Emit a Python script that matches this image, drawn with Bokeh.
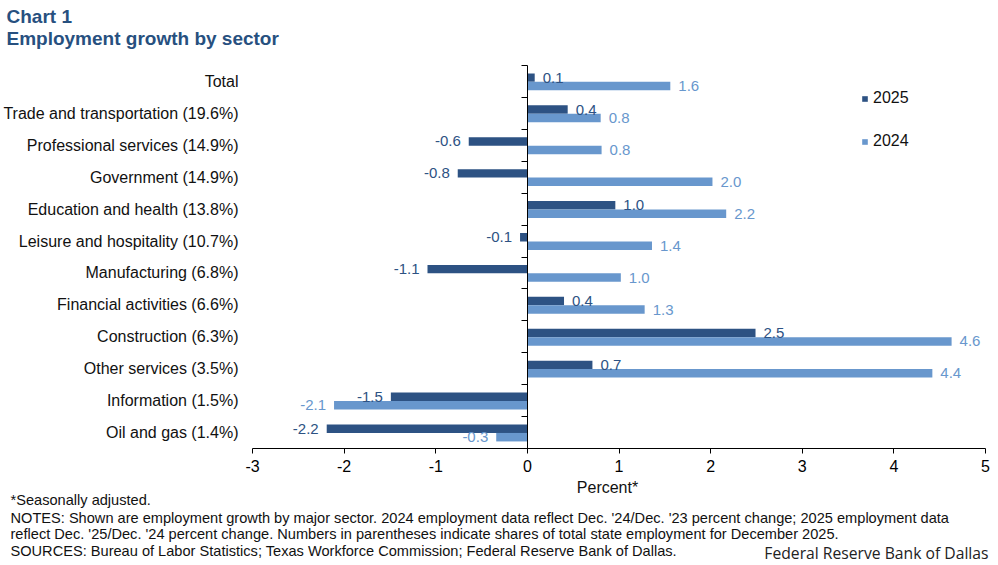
from bokeh.plotting import figure
from bokeh.models import (ColumnDataSource, Label, Legend, LegendItem,
                          FixedTicker, Range1d, LinearAxis)
from bokeh.core.properties import value
from bokeh.embed import file_html
from bokeh.resources import INLINE

sectors = ["Total", "Trade and transportation (19.6%)", "Professional services (14.9%)",
           "Government (14.9%)", "Education and health (13.8%)",
           "Leisure and hospitality (10.7%)", "Manufacturing (6.8%)",
           "Financial activities (6.6%)", "Construction (6.3%)",
           "Other services (3.5%)", "Information (1.5%)", "Oil and gas (1.4%)"]
growth_2025 = [0.08, 0.44, -0.64, -0.76, 0.96, -0.08, -1.09, 0.40, 2.49, 0.71, -1.49, -2.19]
growth_2024 = [1.56, 0.80, 0.81, 2.02, 2.17, 1.36, 1.02, 1.28, 4.63, 4.42, -2.11, -0.34]
x_ticks = [-3, -2, -1, 0, 1, 2, 3, 4, 5]

DARK = "#2D5283"
LIGHT = "#6897CD"
TITLE_C = "#27507F"
FONT = "Liberation Sans"

n = len(sectors)
ypos = [n - 1 - i for i in range(n)]

W, H = 998, 565
# plot area (pixels) inside the canvas
PL, PR, PT, PB = 252, 985, 65, 448
X0, X1 = -3, 5
Y0, Y1 = -0.5, n - 0.5
SX = (PR - PL) / (X1 - X0)
SY = (PB - PT) / (Y1 - Y0)

p = figure(width=W, height=H, output_backend="svg", toolbar_location=None,
           x_range=Range1d(X0 - PL / SX, X1 + (W - PR) / SX),
           y_range=Range1d(Y0 - (H - PB) / SY, Y1 + PT / SY),
           x_axis_location=None, y_axis_location=None,
           min_border=0, min_border_left=0, min_border_right=0,
           min_border_top=0, min_border_bottom=0)
p.outline_line_color = None
p.grid.visible = False
p.background_fill_color = "white"
p.border_fill_color = "white"

BH = 0.266
OFF_D, OFF_L = 0.12, -0.146


def make_src(vals, off):
    return ColumnDataSource(dict(
        y=[y + off for y in ypos],
        v=vals,
        txt=[f"{v:.1f}" for v in vals],
        align=["left" if v >= 0 else "right" for v in vals],
        xo=[8 if v >= 0 else -8 for v in vals],
    ))


src_d = make_src(growth_2025, OFF_D)
src_l = make_src(growth_2024, OFF_L)

r_d = p.hbar(y="y", left=0, right="v", height=BH, source=src_d, fill_color=DARK, line_color=None)
r_l = p.hbar(y="y", left=0, right="v", height=BH, source=src_l, fill_color=LIGHT, line_color=None)

for src, col in ((src_d, DARK), (src_l, LIGHT)):
    p.text(x="v", y="y", text="txt", source=src, x_offset="xo", text_align="align",
           text_baseline="middle", text_color=col, text_font_size="15px",
           text_font=value(FONT))

# x axis along the bottom of the plot area
xa = LinearAxis(fixed_location=Y0, bounds=(X0, X1))
xa.ticker = FixedTicker(ticks=x_ticks)
xa.major_label_overrides = {t: str(t) for t in x_ticks}
xa.minor_tick_line_color = None
xa.major_tick_in = 0
xa.major_tick_out = 5
xa.axis_line_color = "black"
xa.major_tick_line_color = "black"
xa.major_label_text_font = FONT
xa.major_label_text_font_size = "16px"
xa.major_label_text_color = "black"
xa.major_label_standoff = 6
p.add_layout(xa, "below")

# category labels at the left of the plot area
ya = LinearAxis(fixed_location=X0, bounds=(Y0, Y1))
ya.ticker = FixedTicker(ticks=ypos)
ya.major_label_overrides = {y: s for y, s in zip(ypos, sectors)}
ya.axis_line_color = None
ya.major_tick_line_color = None
ya.minor_tick_line_color = None
ya.major_tick_in = 0
ya.major_tick_out = 0
ya.major_label_standoff = 14
ya.major_label_text_font = FONT
ya.major_label_text_font_size = "16px"
ya.major_label_text_color = "#111111"
p.add_layout(ya, "left")

# zero axis with ticks between categories
bounds = [k - 0.5 for k in range(n + 1)]
za = LinearAxis(fixed_location=0, bounds=(Y0, Y1))
za.ticker = FixedTicker(ticks=bounds)
za.major_label_overrides = {b: "" for b in bounds}
za.minor_tick_line_color = None
za.major_tick_in = 0
za.major_tick_out = 6
za.axis_line_color = "black"
za.major_tick_line_color = "black"
p.add_layout(za, "left")

legend = Legend(items=[LegendItem(label="2025", renderers=[r_d]),
                       LegendItem(label="2024", renderers=[r_l])],
                location=(861, 415), glyph_width=7, glyph_height=7, spacing=25,
                padding=0, margin=0, border_line_color=None, background_fill_alpha=0,
                label_standoff=5, label_text_font=FONT, label_text_font_size="16px",
                label_text_color="#111111")
p.add_layout(legend)


def lab(text, x, y, size, color="#111111", style="normal", align="left", font=FONT):
    p.add_layout(Label(x=x, y=H - y, x_units="screen", y_units="screen", text=text,
                       text_font=font, text_font_size=size, text_color=color,
                       text_font_style=style, text_align=align, text_baseline="middle"))


lab("Chart 1", 6, 15.5, "19px", TITLE_C, "bold")
lab("Employment growth by sector", 6, 37.5, "19px", TITLE_C, "bold")
lab("Percent*", 607, 487, "16px", align="center")
lab("*Seasonally adjusted.", 10, 499, "14.6px")
lab("NOTES: Shown are employment growth by major sector. 2024 employment data reflect Dec. '24/Dec. '23 percent change; 2025 employment data",
    10, 517, "14.6px")
lab("reflect Dec. '25/Dec. '24 percent change. Numbers in parentheses indicate shares of total state employment for December 2025.",
    10, 533, "14.6px")
lab("SOURCES: Bureau of Labor Statistics; Texas Workforce Commission; Federal Reserve Bank of Dallas.",
    10, 550, "14.6px")
lab("Federal Reserve Bank of Dallas", 988, 552, "15.7px", color="#222222", align="right",
    font="Open Sans")

open("out.html", "w").write(file_html(p, INLINE))
